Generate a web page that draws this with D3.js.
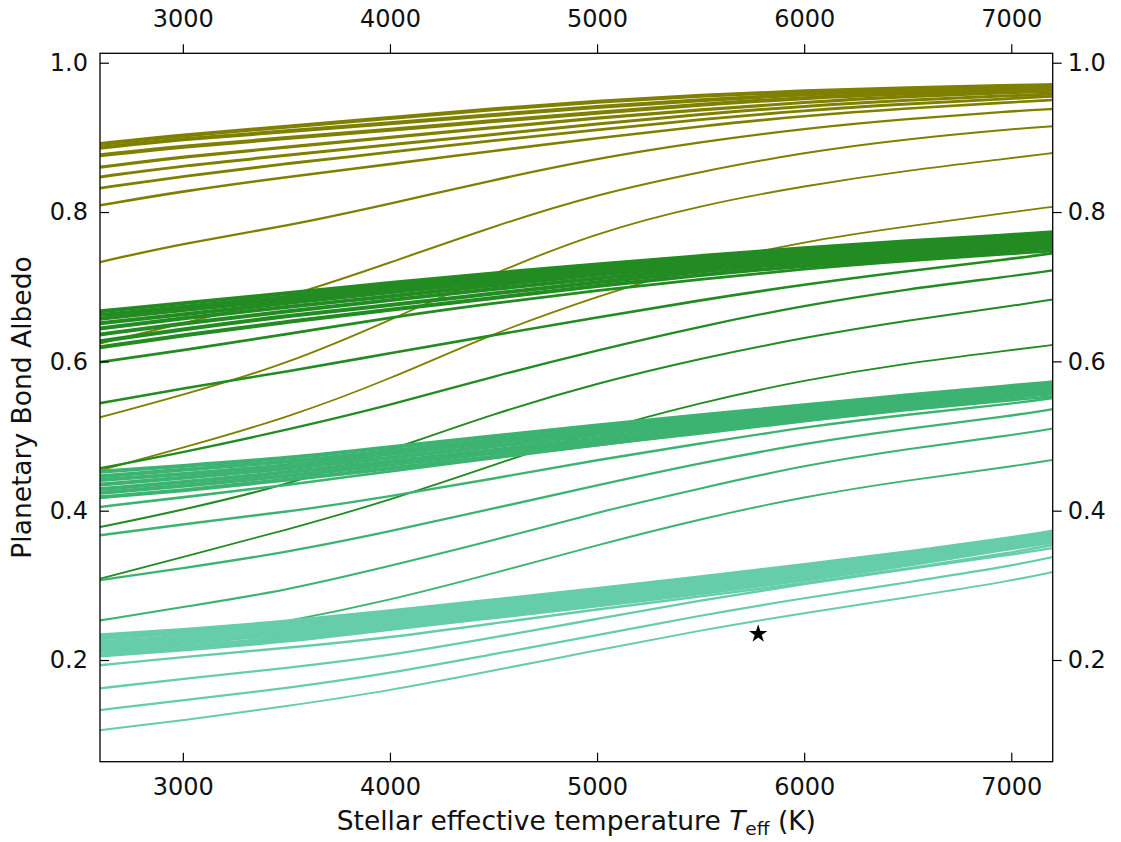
<!DOCTYPE html>
<html><head><meta charset="utf-8">
<script src="https://cdn.jsdelivr.net/npm/d3@7"></script>
<style>
body{margin:0;background:#fff;}
text{font-family:"DejaVu Sans",sans-serif;}
</style></head>
<body><svg id="chart" width="1121" height="842"></svg>
<script>
// ---- data ----
const teff = [2600,3000,3500,4000,4500,5000,5500,6000,6500,7000,7200];
const xTicks = [3000,4000,5000,6000,7000];
const yTicks = [0.2,0.4,0.6,0.8,1.0];

const oliveLines = [
 [0.891,0.903,0.914,0.926,0.938,0.948,0.956,0.962,0.966,0.969,0.970],
 [0.886,0.898,0.908,0.919,0.930,0.941,0.950,0.958,0.963,0.966,0.967],
 [0.876,0.888,0.899,0.910,0.922,0.933,0.944,0.953,0.959,0.963,0.965],
 [0.860,0.874,0.887,0.900,0.913,0.926,0.937,0.947,0.955,0.960,0.962],
 [0.847,0.862,0.876,0.890,0.904,0.918,0.931,0.942,0.950,0.956,0.958],
 [0.832,0.848,0.865,0.880,0.896,0.910,0.924,0.936,0.945,0.952,0.955],
 [0.809,0.828,0.847,0.864,0.882,0.899,0.915,0.929,0.939,0.947,0.950],
 [0.733,0.758,0.781,0.811,0.843,0.872,0.894,0.912,0.925,0.935,0.938],
 [0.624,0.651,0.685,0.732,0.781,0.824,0.854,0.880,0.898,0.911,0.915],
 [0.525,0.555,0.596,0.655,0.718,0.773,0.809,0.835,0.856,0.872,0.879],
 [0.454,0.484,0.524,0.576,0.638,0.687,0.730,0.761,0.781,0.800,0.807]
];
const forestLines = [
 [0.667,0.678,0.691,0.705,0.718,0.730,0.741,0.752,0.761,0.769,0.773],
 [0.662,0.673,0.686,0.701,0.714,0.726,0.738,0.749,0.758,0.766,0.770],
 [0.657,0.669,0.682,0.697,0.710,0.724,0.736,0.746,0.756,0.764,0.768],
 [0.651,0.663,0.678,0.693,0.706,0.720,0.733,0.744,0.753,0.761,0.765],
 [0.644,0.658,0.673,0.687,0.702,0.716,0.729,0.741,0.750,0.758,0.762],
 [0.636,0.651,0.667,0.682,0.697,0.711,0.725,0.737,0.746,0.754,0.758],
 [0.627,0.643,0.661,0.675,0.691,0.706,0.721,0.733,0.742,0.750,0.754],
 [0.619,0.635,0.653,0.669,0.685,0.701,0.716,0.728,0.738,0.748,0.752],
 [0.599,0.615,0.636,0.659,0.678,0.695,0.710,0.724,0.735,0.744,0.748],
 [0.544,0.564,0.586,0.611,0.635,0.659,0.682,0.703,0.721,0.737,0.745],
 [0.457,0.478,0.508,0.541,0.580,0.615,0.647,0.675,0.697,0.714,0.722],
 [0.378,0.401,0.434,0.481,0.530,0.571,0.604,0.632,0.655,0.674,0.683],
 [0.309,0.338,0.374,0.414,0.461,0.508,0.545,0.575,0.598,0.615,0.622]
];
const seaLines = [
 [0.452,0.460,0.470,0.485,0.500,0.514,0.528,0.541,0.555,0.567,0.572],
 [0.446,0.455,0.465,0.480,0.495,0.510,0.524,0.538,0.552,0.565,0.569],
 [0.441,0.449,0.460,0.476,0.491,0.506,0.520,0.535,0.550,0.562,0.567],
 [0.435,0.444,0.456,0.471,0.486,0.502,0.516,0.531,0.546,0.560,0.565],
 [0.429,0.438,0.451,0.466,0.481,0.497,0.512,0.528,0.543,0.557,0.562],
 [0.424,0.433,0.446,0.462,0.477,0.493,0.508,0.524,0.540,0.554,0.560],
 [0.418,0.427,0.441,0.457,0.472,0.489,0.504,0.521,0.537,0.552,0.557],
 [0.405,0.418,0.434,0.453,0.470,0.488,0.505,0.521,0.535,0.548,0.553],
 [0.367,0.382,0.398,0.419,0.443,0.468,0.490,0.512,0.529,0.543,0.551],
 [0.307,0.323,0.344,0.372,0.403,0.434,0.464,0.490,0.510,0.527,0.536],
 [0.253,0.271,0.293,0.326,0.360,0.398,0.430,0.461,0.483,0.501,0.510],
 [0.218,0.229,0.251,0.280,0.316,0.354,0.389,0.419,0.441,0.459,0.468]
];
const aquaLines = [
 [0.233,0.240,0.251,0.265,0.280,0.295,0.311,0.327,0.344,0.363,0.372],
 [0.229,0.236,0.247,0.261,0.276,0.291,0.307,0.324,0.341,0.361,0.370],
 [0.224,0.231,0.243,0.257,0.272,0.288,0.304,0.320,0.338,0.358,0.367],
 [0.220,0.227,0.238,0.254,0.269,0.284,0.300,0.317,0.336,0.356,0.365],
 [0.215,0.223,0.234,0.250,0.265,0.280,0.296,0.314,0.333,0.354,0.363],
 [0.211,0.218,0.229,0.246,0.261,0.277,0.293,0.310,0.330,0.352,0.360],
 [0.206,0.214,0.225,0.242,0.257,0.273,0.289,0.307,0.327,0.350,0.358],
 [0.193,0.204,0.216,0.230,0.249,0.268,0.285,0.303,0.322,0.344,0.354],
 [0.162,0.175,0.189,0.206,0.230,0.255,0.280,0.302,0.322,0.341,0.350],
 [0.133,0.146,0.162,0.182,0.208,0.233,0.260,0.283,0.304,0.326,0.338],
 [0.106,0.119,0.138,0.159,0.186,0.213,0.240,0.263,0.284,0.306,0.318]
];
const sunTeff = 5778;
const sunAlbedo = 0.235;

// ---- styles ----
const groups = [
 {lines: oliveLines,  color: "#808000", widths: [4,4,4,3.2,3,2.8,2.6,2.3,2.0,1.9,1.8]},
 {lines: forestLines, color: "#228B22", widths: [4,4,4,4,4,4,4,4,2.8,2.6,2.3,2.0,1.8]},
 {lines: seaLines,    color: "#3CB371", widths: [4,4,4,4,4,4,4,2.6,2.4,2.3,2.1,1.9]},
 {lines: aquaLines,   color: "#66CDAA", widths: [4,4,4,4,4,4,4,2.4,2.3,2.2,2.0]}
];

const svg = d3.select("#chart");
const L = 100, R = 1052.7, T = 53.3, B = 761.7;
const x = d3.scaleLinear().domain([2600, 7200]).range([L, R]);
const y = d3.scaleLinear().domain([0.0638, 1.0126]).range([B, T]);

svg.append("defs").append("clipPath").attr("id","clip")
  .append("rect").attr("x",L).attr("y",T).attr("width",R-L).attr("height",B-T);

const line = d3.line().x((d,i)=>x(teff[i])).y(d=>y(d)).curve(d3.curveBasis);
const plot = svg.append("g").attr("clip-path","url(#clip)");
groups.forEach(g=>{
  g.lines.forEach((vals,k)=>{
    plot.append("path").attr("d", line(vals)).attr("fill","none")
      .attr("stroke", g.color).attr("stroke-width", g.widths[k]);
  });
});
plot.append("path")
  .attr("d", d3.symbol(d3.symbolStar, 105)())
  .attr("transform", `translate(${x(sunTeff)},${y(sunAlbedo)})`)
  .attr("fill","#000");

// axes
const tickFs = "24px", labFs = "26.5px";
function style(g){ g.select(".domain").remove(); g.selectAll("line").attr("stroke","#000").attr("stroke-width",1.2);
  g.selectAll("text").attr("font-size",tickFs).attr("fill","#111").attr("font-family","DejaVu Sans"); }
svg.append("g").attr("transform",`translate(0,${B})`)
  .call(d3.axisBottom(x).tickValues(xTicks).tickSizeInner(-9).tickSizeOuter(0).tickPadding(16).tickFormat(d3.format("d"))).call(style);
svg.append("g").attr("transform",`translate(0,${T})`)
  .call(d3.axisTop(x).tickValues(xTicks).tickSizeInner(9).tickSizeOuter(0).tickPadding(17).tickFormat(d3.format("d"))).call(style);
svg.append("g").attr("transform",`translate(${L},0)`)
  .call(d3.axisLeft(y).tickValues(yTicks).tickSizeInner(-9).tickSizeOuter(0).tickPadding(12).tickFormat(d3.format(".1f"))).call(style);
svg.append("g").attr("transform",`translate(${R},0)`)
  .call(d3.axisRight(y).tickValues(yTicks).tickSizeInner(9).tickSizeOuter(0).tickPadding(6).tickFormat(d3.format(".1f"))).call(style);

svg.append("rect").attr("x",L).attr("y",T).attr("width",R-L).attr("height",B-T)
  .attr("fill","none").attr("stroke","#000").attr("stroke-width",1.3);

// labels
const xl = svg.append("text").attr("x",(L+R)/2).attr("y",830).attr("text-anchor","middle")
  .attr("font-size",labFs).attr("fill","#111");
xl.append("tspan").text("Stellar effective temperature ");
xl.append("tspan").attr("font-style","italic").text("T");
xl.append("tspan").attr("font-size","18.5px").attr("dy",5).text("eff");
xl.append("tspan").attr("dy",-5).text(" (K)");
svg.append("text").attr("transform",`translate(31,${(T+B)/2}) rotate(-90)`).attr("text-anchor","middle")
  .attr("font-size",labFs).attr("fill","#111").text("Planetary Bond Albedo");
</script>
</body></html>
